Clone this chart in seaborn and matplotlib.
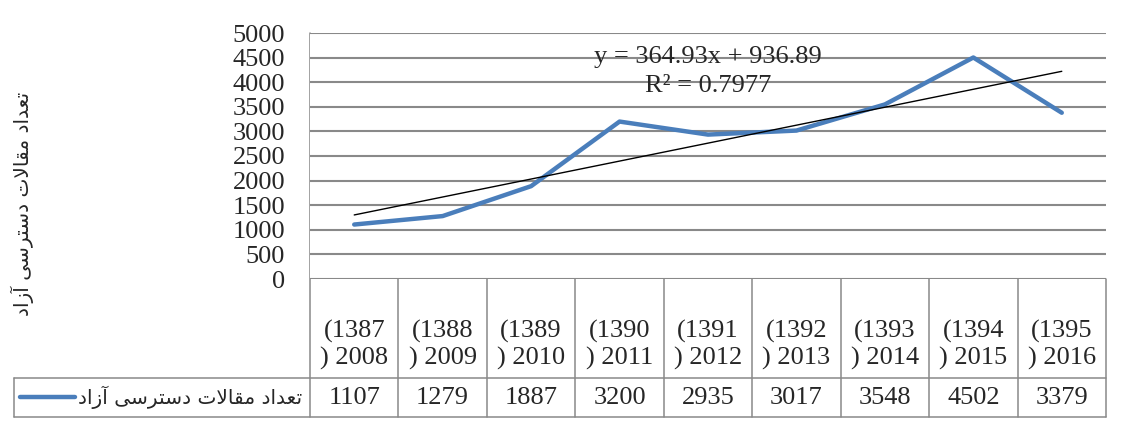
import numpy as np
import pandas as pd
import matplotlib
matplotlib.use('Agg')
import matplotlib.pyplot as plt
import seaborn as sns

# data
years_fa = ['1387', '1388', '1389', '1390', '1391', '1392', '1393', '1394', '1395']
years_en = ['2008', '2009', '2010', '2011', '2012', '2013', '2014', '2015', '2016']
counts = [1107, 1279, 1887, 3200, 2935, 3017, 3548, 4502, 3379]
series_name = 'تعداد مقالات دسترسی آزاد'
y_title = 'تعداد مقالات دسترسی آزاد'

# minimal arabic shaping (matplotlib has no bidi / joining)
DUAL = {
    'ت': (0xFE95, 0xFE96, 0xFE97, 0xFE98),
    'ع': (0xFEC9, 0xFECA, 0xFECB, 0xFECC),
    'م': (0xFEE1, 0xFEE2, 0xFEE3, 0xFEE4),
    'ق': (0xFED5, 0xFED6, 0xFED7, 0xFED8),
    'ل': (0xFEDD, 0xFEDE, 0xFEDF, 0xFEE0),
    'س': (0xFEB1, 0xFEB2, 0xFEB3, 0xFEB4),
    'ی': (0xFBFC, 0xFBFD, 0xFBFE, 0xFBFF),
}
RIGHT = {
    'د': (0xFEA9, 0xFEAA),
    'ا': (0xFE8D, 0xFE8E),
    'آ': (0xFE81, 0xFE82),
    'ر': (0xFEAD, 0xFEAE),
    'ز': (0xFEAF, 0xFEB0),
}
LAMALEF = {'ا': (0xFEFB, 0xFEFC), 'آ': (0xFEF5, 0xFEF6)}


def shape(s):
    out = []
    prev_joins = False
    i = 0
    while i < len(s):
        c = s[i]
        if c == 'ل' and i + 1 < len(s) and s[i + 1] in LAMALEF:
            lig = LAMALEF[s[i + 1]]
            out.append(chr(lig[1] if prev_joins else lig[0]))
            prev_joins = False
            i += 2
            continue
        nxt = s[i + 1] if i + 1 < len(s) else ''
        nxt_ar = nxt in DUAL or nxt in RIGHT
        if c in DUAL:
            iso, fin, ini, med = DUAL[c]
            if prev_joins and nxt_ar:
                g = med
            elif prev_joins:
                g = fin
            elif nxt_ar:
                g = ini
            else:
                g = iso
            out.append(chr(g))
            prev_joins = True
        elif c in RIGHT:
            out.append(chr(RIGHT[c][1] if prev_joins else RIGHT[c][0]))
            prev_joins = False
        else:
            out.append(c)
            prev_joins = False
        i += 1
    return ''.join(reversed(out))


# style
sns.set_style('white')
plt.rcParams['font.family'] = ['Liberation Serif', 'DejaVu Sans']
BLUE = '#4A7EBB'
GREY = '#898989'
FS = 19

W, H = 1122, 426


def box(l, t, r, b):
    return [l / W, 1 - b / H, (r - l) / W, (b - t) / H]


fig = plt.figure(figsize=(W / 100, H / 100), dpi=100)

# plot area
left, right, top, zero = 310, 1106, 33, 279
ax = fig.add_axes(box(left, top, right, zero))
df = pd.DataFrame({'pos': np.arange(len(counts)), 'count': counts})

sns.lineplot(data=df, x='pos', y='count', color=BLUE, lw=3.2, ax=ax,
             solid_capstyle='round')
sns.regplot(data=df, x='pos', y='count', scatter=False, ci=None, truncate=True,
            line_kws=dict(color='black', lw=1.0), ax=ax)

# trendline equation (Excel style, x = 1..n)
xs = np.arange(1, len(counts) + 1)
slope, intercept = np.polyfit(xs, counts, 1)
pred = slope * xs + intercept
r2 = 1 - np.sum((np.array(counts) - pred) ** 2) / np.sum((np.array(counts) - np.mean(counts)) ** 2)
ax.text(4.0, 4510, f'y = {slope:.2f}x + {intercept:.2f}', ha='center', va='center', fontsize=FS)
ax.text(4.0, 3920, f'R² = {r2:.4f}', ha='center', va='center', fontsize=FS)

ax.set_xlim(-0.5, len(counts) - 0.5)
ax.set_ylim(0, 5000)
ax.set_yticks(np.arange(0, 5001, 500))
ax.set_xticks([])
ax.set_xlabel('')
ax.set_ylabel('')
ax.grid(axis='y', color=GREY, lw=1.5)
ax.tick_params(axis='y', length=0, pad=18, labelsize=FS)
for s in ax.spines.values():
    s.set_visible(False)

# data table
tax = fig.add_axes([0, 0, 1, 1], zorder=-1)
tax.set_xlim(0, W)
tax.set_ylim(H, 0)
tax.axis('off')

row_mid, row_bot, leg_left = 378, 417, 14
edges = np.linspace(left, right, len(counts) + 1)
lk = dict(color=GREY, lw=1.1)
tax.plot([left, left], [top, row_bot], **lk)
for x in edges[1:]:
    tax.plot([x, x], [zero, row_bot], **lk)
tax.plot([leg_left, right], [row_mid, row_mid], **lk)
tax.plot([leg_left, right], [row_bot, row_bot], **lk)
tax.plot([leg_left, leg_left], [row_mid, row_bot], **lk)

centers = (edges[:-1] + edges[1:]) / 2
for cx, fa, en, v in zip(centers, years_fa, years_en, counts):
    tax.text(cx, 331, '(' + fa, ha='center', va='center', fontsize=FS)
    tax.text(cx, 358, ') ' + en, ha='center', va='center', fontsize=FS)
    tax.text(cx, 398, str(v), ha='center', va='center', fontsize=FS)

# legend key inside table
tax.plot([20, 75], [397, 397], color=BLUE, lw=3.2, solid_capstyle='round')
tax.text(302, 397, shape(series_name), ha='right', va='center', fontsize=14.5,
         family='DejaVu Sans')

# y axis title
tax.text(22, 204, shape(y_title), ha='center', va='center', rotation=90,
         fontsize=14.5, family='DejaVu Sans')

fig.savefig('out.png', dpi=100)
